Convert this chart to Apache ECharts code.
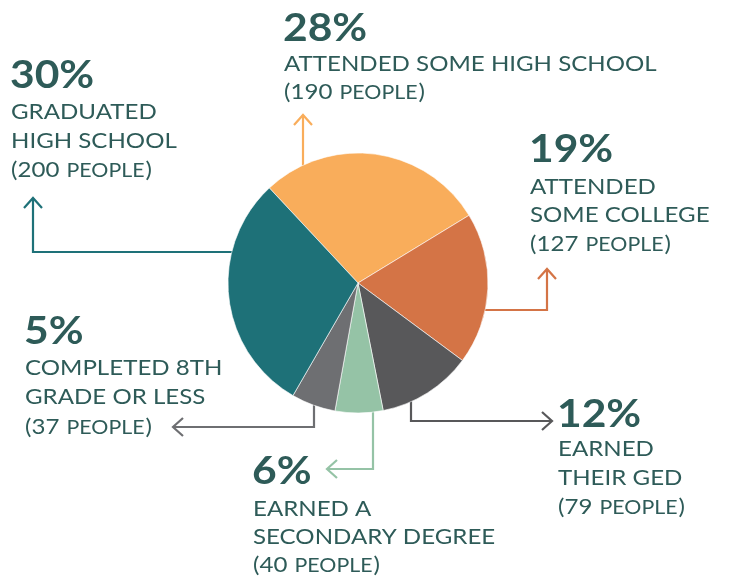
<!DOCTYPE html>
<html>
<head>
<meta charset="utf-8">
<script src="https://cdn.jsdelivr.net/npm/echarts@6/dist/echarts.min.js"></script>
<style>
  html, body { margin: 0; padding: 0; background: #fff; }
  #chart { width: 733px; height: 578px; }
</style>
</head>
<body>
<div id="chart"></div>
<script>
// slices, clockwise from the top-left
const categories = [
  'ATTENDED SOME HIGH SCHOOL',
  'ATTENDED SOME COLLEGE',
  'EARNED THEIR GED',
  'EARNED A SECONDARY DEGREE',
  'COMPLETED 8TH GRADE OR LESS',
  'GRADUATED HIGH SCHOOL'
]
const people = [190, 127, 79, 40, 37, 200]
const percentLabels = ['28%', '19%', '12%', '6%', '5%', '30%']
const labelLines = [
  ['ATTENDED SOME HIGH SCHOOL'],
  ['ATTENDED', 'SOME COLLEGE'],
  ['EARNED', 'THEIR GED'],
  ['EARNED A', 'SECONDARY DEGREE'],
  ['COMPLETED 8TH', 'GRADE OR LESS'],
  ['GRADUATED', 'HIGH SCHOOL']
]
const sliceColors = ['#F9AD5B', '#D47446', '#58585A', '#95C3A6', '#6E6F72', '#1E7178']

const TEXT_COLOR = '#2E5B58'
const FONT = 'Lato, "Open Sans", sans-serif'
const BODY_STRETCH = 1.095
const PCT_STRETCH = 1.12

// label block placement: left x, baseline of the percent, baseline of each following line
const blockLayout = [
  { x: 284, base: [42, 72, 100] },
  { x: 530, base: [163, 195, 223, 252] },
  { x: 558, base: [428, 457, 486, 515] },
  { x: 253, base: [485, 517, 545, 573] },
  { x: 25, base: [345, 376, 405, 435] },
  { x: 11, base: [89, 120, 149, 178] }
]

// leader lines (last point is the arrow tip)
const leaders = [
  [[303, 185], [303, 115]],
  [[470, 310], [547, 310], [547, 269]],
  [[411, 385], [411, 421], [552, 421]],
  [[373, 400], [373, 469], [327, 469]],
  [[314, 395], [314, 427], [173, 427]],
  [[260, 252], [33, 252], [33, 198]]
]

const measureCtx = document.createElement('canvas').getContext('2d')
function textWidth(str, font) {
  measureCtx.font = font
  return measureCtx.measureText(str).width
}

function textEl(str, x, baseline, size, weight, stretch) {
  const font = (weight || 'normal') + ' ' + size + 'px ' + FONT
  return {
    type: 'text',
    x: x,
    y: baseline - size * 0.36,
    scaleX: stretch || BODY_STRETCH,
    z: 10,
    silent: true,
    style: {
      text: str,
      font: font,
      fill: TEXT_COLOR,
      verticalAlign: 'middle',
      align: 'left'
    }
  }
}

function buildLabels() {
  const out = []
  categories.forEach((cat, i) => {
    const lay = blockLayout[i]
    out.push(textEl(percentLabels[i], lay.x - 1, lay.base[0], 38, 'bold', PCT_STRETCH))
    labelLines[i].forEach((ln, j) => {
      out.push(textEl(ln, lay.x, lay.base[j + 1], 22))
    })
    const lastBase = lay.base[lay.base.length - 1]
    const head = '(' + people[i] + ' '
    const w1 = textWidth(head, 'normal 22px ' + FONT) * BODY_STRETCH
    const w2 = textWidth('PEOPLE', 'normal 19.5px ' + FONT) * BODY_STRETCH
    out.push(textEl(head, lay.x, lastBase, 22))
    out.push(textEl('PEOPLE', lay.x + w1 + 1, lastBase, 19.5))
    out.push(textEl(')', lay.x + w1 + w2 + 2, lastBase, 22))
  })
  return out
}

function buildLeaders() {
  const out = []
  leaders.forEach((pts, i) => {
    const color = sliceColors[i]
    out.push({
      type: 'polyline',
      z: 1,
      silent: true,
      shape: { points: pts },
      style: { stroke: color, lineWidth: 2.2, fill: null }
    })
    const tip = pts[pts.length - 1]
    const prev = pts[pts.length - 2]
    const dx = Math.sign(tip[0] - prev[0])
    const dy = Math.sign(tip[1] - prev[1])
    const back = 10
    const spread = 9
    const wing1 = [tip[0] - dx * back - dy * spread, tip[1] - dy * back - dx * spread]
    const wing2 = [tip[0] - dx * back + dy * spread, tip[1] - dy * back + dx * spread]
    out.push({
      type: 'polyline',
      z: 1,
      silent: true,
      shape: { points: [wing1, tip, wing2] },
      style: { stroke: color, lineWidth: 2.2, fill: null }
    })
  })
  return out
}

const chart = echarts.init(document.getElementById('chart'), null, { renderer: 'canvas' })
chart.setOption({
  backgroundColor: '#ffffff',
  animation: false,
  series: [
    {
      type: 'pie',
      center: [358, 283],
      radius: 130,
      startAngle: 133,
      clockwise: true,
      z: 5,
      label: { show: false },
      labelLine: { show: false },
      emphasis: { disabled: true },
      itemStyle: { borderColor: '#ffffff', borderWidth: 0.6 },
      data: categories.map((name, i) => ({
        name: name,
        value: people[i],
        itemStyle: { color: sliceColors[i] }
      }))
    }
  ],
  graphic: { elements: buildLeaders().concat(buildLabels()) }
})
</script>
</body>
</html>
